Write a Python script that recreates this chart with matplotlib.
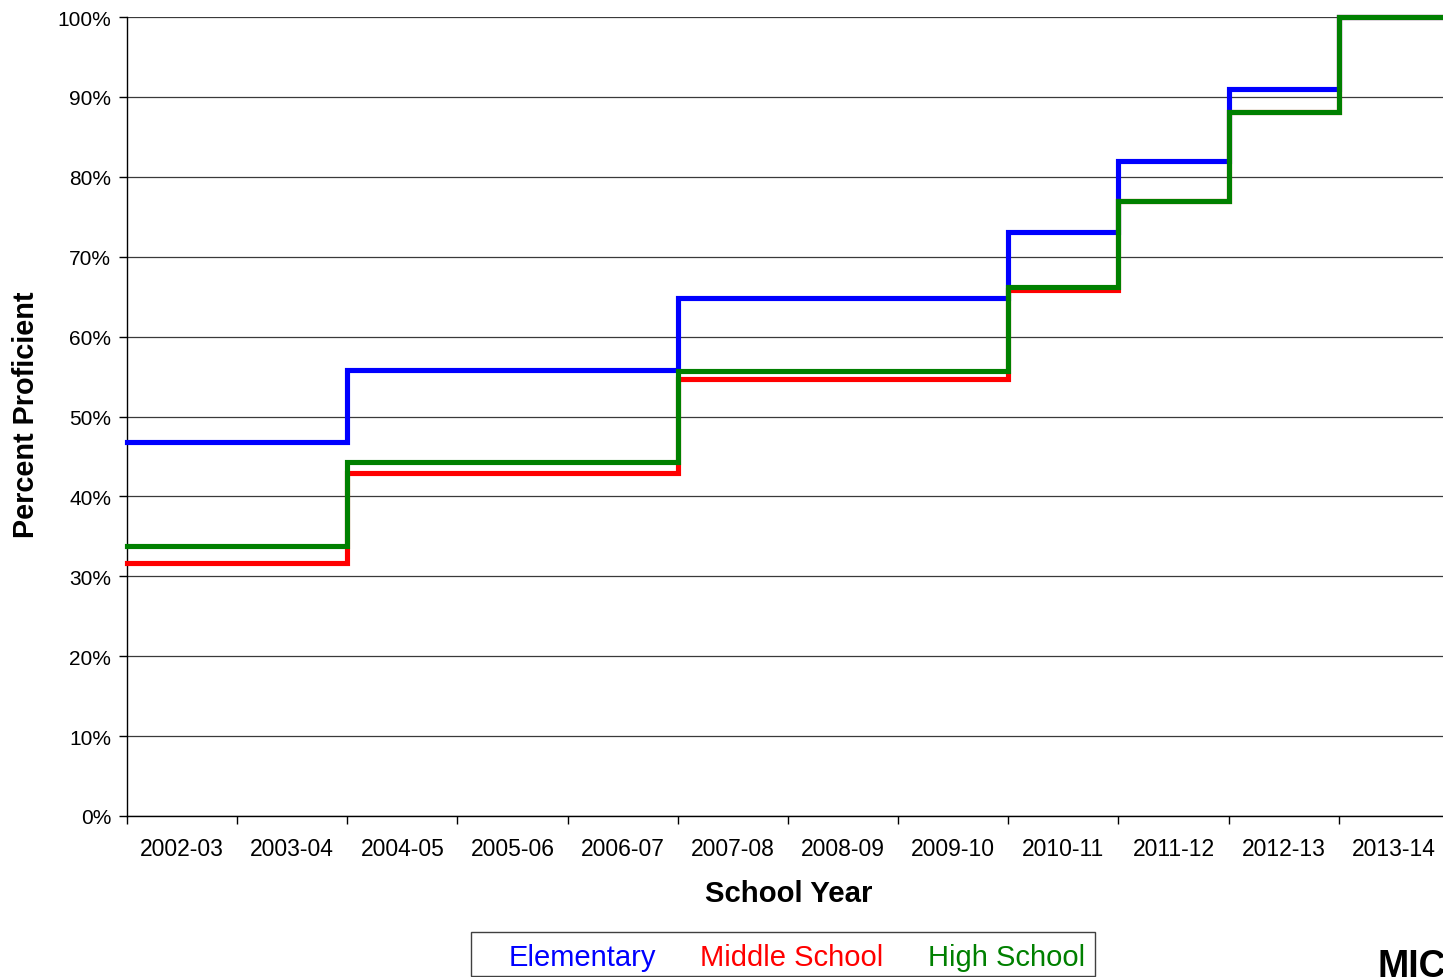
import matplotlib
matplotlib.use("Agg")
import matplotlib.pyplot as plt
from matplotlib.patches import Rectangle
import numpy as np

plt.rcParams['font.family'] = ['Liberation Sans', 'DejaVu Sans']

school_years = ["2002-03", "2003-04", "2004-05", "2005-06", "2006-07", "2007-08",
                "2008-09", "2009-10", "2010-11", "2011-12", "2012-13", "2013-14"]
elementary = [46.8, 46.8, 55.8, 55.8, 55.8, 64.8, 64.8, 64.8, 73.1, 82.0, 91.0, 100.0]
middle_school = [31.7, 31.7, 42.9, 42.9, 42.9, 54.7, 54.7, 54.7, 65.8, 77.0, 88.1, 100.0]
high_school = [33.8, 33.8, 44.3, 44.3, 44.3, 55.7, 55.7, 55.7, 66.2, 77.0, 88.1, 100.0]
series_names = ["Elementary", "Middle School", "High School"]
series_colors = ["#0000FF", "#FF0000", "#008000"]
y_ticks = [0, 10, 20, 30, 40, 50, 60, 70, 80, 90, 100]

W, H = 1443, 978
fig = plt.figure(figsize=(W / 100, H / 100), dpi=100)
fig.patch.set_facecolor('white')
ax = fig.add_axes([127 / W, 1 - 817 / H, (1449 - 127) / W, (817 - 18) / H])

n = len(school_years)
edges = np.arange(n + 1)
for vals, name, col in zip([elementary, middle_school, high_school], series_names, series_colors):
    ax.step(edges, list(vals) + [vals[-1]], where='post', color=col, lw=3.7,
            clip_on=False, solid_capstyle='projecting', solid_joinstyle='miter', zorder=3, label=name)

ax.set_xlim(0, n)
ax.set_ylim(0, 100)
ax.set_yticks(y_ticks)
ax.set_yticklabels([f"{v}%" for v in y_ticks])
ax.yaxis.grid(True, color='#3a3a3a', lw=0.9, zorder=1)
ax.set_axisbelow(True)

ax.set_xticks(edges)
ax.set_xticklabels([])
ax.set_xticks(np.arange(n) + 0.5, minor=True)
ax.set_xticklabels(school_years, minor=True, fontsize=16.5)
ax.tick_params(axis='x', which='major', direction='out', length=6, width=1, color='black')
ax.tick_params(axis='x', which='minor', length=0, pad=15)
ax.tick_params(axis='y', direction='out', length=6, width=1, color='black', labelsize=15, pad=5.5)

for s in ['top', 'right']:
    ax.spines[s].set_visible(False)
for s in ['left', 'bottom']:
    ax.spines[s].set_color('black')
    ax.spines[s].set_linewidth(1)

ax.set_xlabel("School Year", fontsize=21.2, fontweight='bold', va='center')
ax.xaxis.set_label_coords((789 - 127) / 1322, (817 - 894) / 799)
ax.set_ylabel("Percent Proficient", fontsize=20.8, fontweight='bold', va='center')
ax.yaxis.set_label_coords((26 - 127) / 1322, (817 - 415) / 799)

# legend box (text-only entries)
fig.patches.append(Rectangle((471 / W, 1 - 977 / H), (1095 - 471) / W, (977 - 933) / H,
                             transform=fig.transFigure, fill=False, edgecolor='#404040', lw=1))
legend_x = [509, 700, 928]
for name, col, x in zip(series_names, series_colors, legend_x):
    fig.text(x / W, 1 - 958 / H, name, color=col, fontsize=21, ha='left', va='center')

fig.text(1378 / W, 1 - 977 / H, "MICHIGAN", fontsize=27, fontweight='bold', color='black',
         ha='left', va='baseline')

fig.savefig("out.png", dpi=100)
